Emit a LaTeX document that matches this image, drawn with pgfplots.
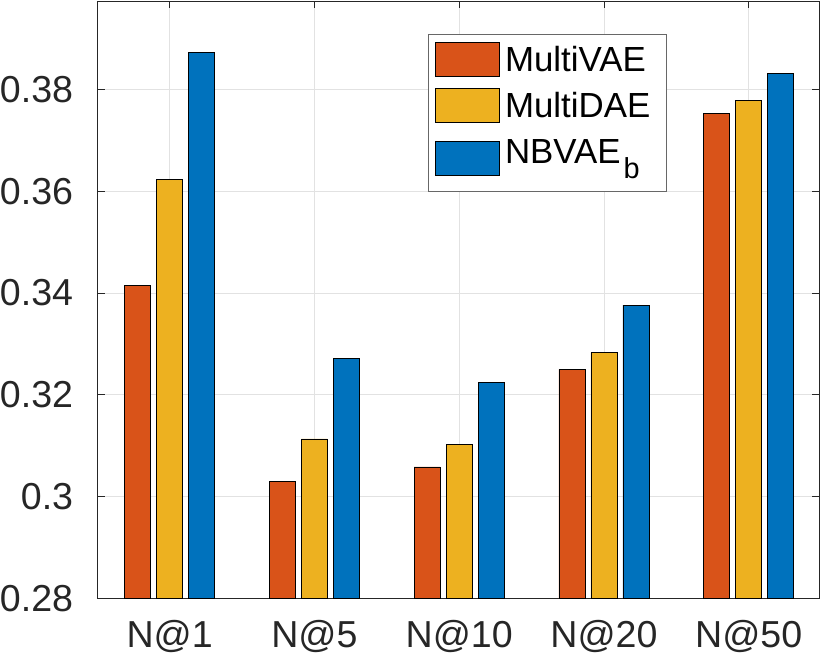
\documentclass[border=0pt]{standalone}
\usepackage{pgfplots}
\pgfplotsset{compat=1.18}
\usepackage{pgfplotstable}
\usepackage{fontspec}
\setmainfont{Liberation Sans}
\definecolor{mred}{rgb}{0.850,0.325,0.098}
\definecolor{myel}{rgb}{0.929,0.694,0.125}
\definecolor{mblu}{rgb}{0.000,0.447,0.741}
\definecolor{axc}{rgb}{0.15,0.15,0.15}
\definecolor{gridc}{rgb}{0.885,0.885,0.885}
\pgfplotstableread{
x vae dae nb
1 0.3415 0.3623 0.3873
2 0.3030 0.3113 0.3272
3 0.3058 0.3103 0.3224
4 0.3250 0.3283 0.3376
5 0.3752 0.3778 0.3831
}\datatable
\begin{document}
\begin{tikzpicture}
\useasboundingbox (-98bp,-56.7bp) rectangle (724bp,598.3bp);
\begin{axis}[
  at={(0,0)}, anchor=south west,
  scale only axis, width=721.3bp, height=597bp,
  xmin=0.505, xmax=5.488,
  ymin=0.28, ymax=0.39729,
  xtick={1,2,3,4,5},
  xticklabels={N@1,N@5,N@10,N@20,N@50},
  ytick={0.28,0.30,0.32,0.34,0.36,0.38},
  yticklabels={0.28,0.3,0.32,0.34,0.36,0.38},
  /pgf/number format/assume math mode=true,
  tick pos=both, tick align=inside,
  major tick length=7bp,
  every tick/.style={axc, line width=0.8bp},
  axis line style={axc, line width=1bp},
  xmajorgrids, ymajorgrids,
  grid style={gridc, line width=0.7bp},
  ticklabel style={font=\fontsize{37.7}{40}\selectfont, text=axc},
  xticklabel style={inner sep=0pt, text height=27bp, text depth=0pt, yshift=-21.7bp},
  yticklabel style={inner sep=0pt, xshift=-24.7bp},
  legend style={at={(0.4575,0.9457)}, anchor=north west,
    draw=axc!70, line width=0.7bp, fill=white,
    inner xsep=6.3bp, inner ysep=8.3bp,
    font=\fontsize{35}{37}\selectfont,
    nodes={inner sep=0pt, text height=29bp, text depth=0pt},
    row sep=11bp, column sep=5bp,
    cells={anchor=base west}},
]
\addplot[ybar, bar width=0.1796, bar shift=-0.221, fill=mred, draw=black, line width=0.8bp,
  legend image code/.code={\draw[fill=mred, draw=black, line width=0.8bp] (0bp,-5.5bp) rectangle (64.6bp,28.5bp);}]
  table[x=x, y=vae] {\datatable};
\addlegendentry{MultiVAE\hspace*{14bp}}
\addplot[ybar, bar width=0.1796, bar shift=0, fill=myel, draw=black, line width=0.8bp,
  legend image code/.code={\draw[fill=myel, draw=black, line width=0.8bp] (0bp,-5.5bp) rectangle (64.6bp,28.5bp);}]
  table[x=x, y=dae] {\datatable};
\addlegendentry{MultiDAE}
\addplot[ybar, bar width=0.1796, bar shift=0.221, fill=mblu, draw=black, line width=0.8bp,
  legend image code/.code={\path (0bp,-19bp); \draw[fill=mblu, draw=black, line width=0.8bp] (0bp,-11.8bp) rectangle (64.6bp,22.2bp);}]
  table[x=x, y=nb] {\datatable};
\addlegendentry{NBVAE\hspace{3bp}\raisebox{-15.4bp}[0pt][0pt]{\fontsize{29}{29}\selectfont b}}
\end{axis}
\end{tikzpicture}
\end{document}
